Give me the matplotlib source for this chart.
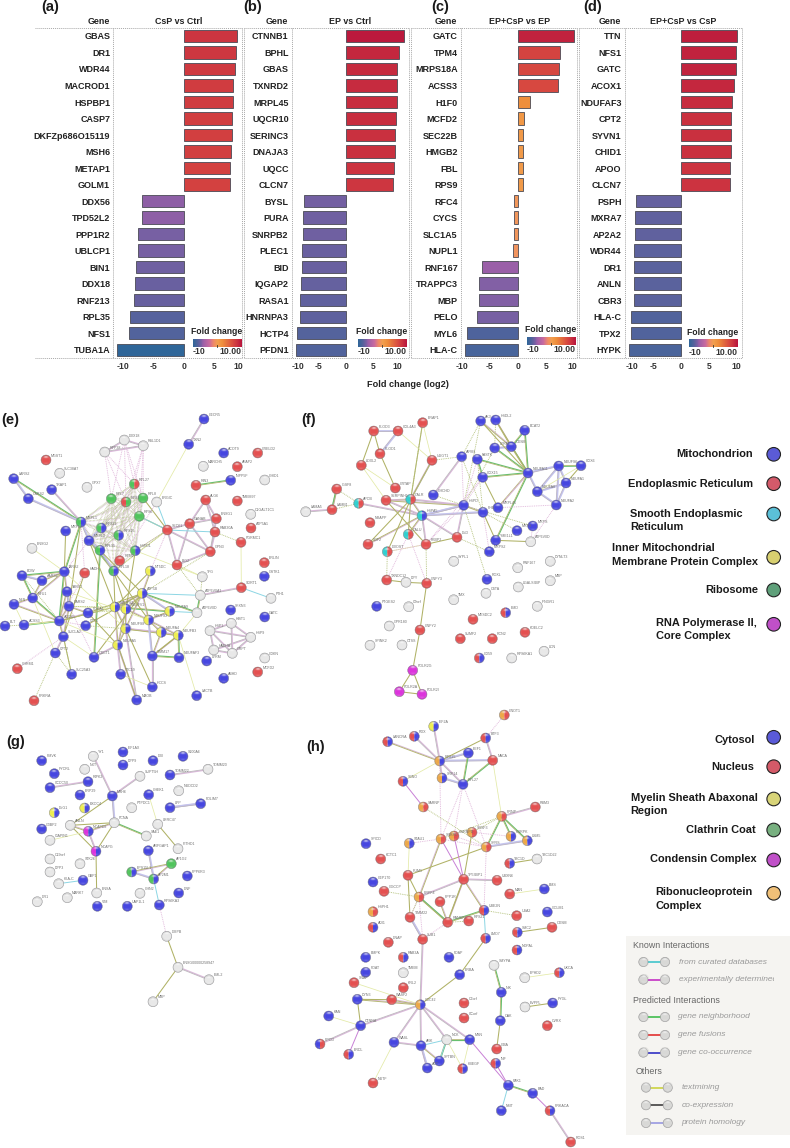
import itertools
import numpy as np
import matplotlib
matplotlib.use("Agg")
import matplotlib.pyplot as plt
from matplotlib.colors import LinearSegmentedColormap, Normalize
from matplotlib.patches import Wedge, Circle, Rectangle

plt.rcParams['font.family'] = ['Liberation Sans', 'DejaVu Sans']

W, H = 790, 1148

# === Bar panels ===
TITLES = ["CsP vs Ctrl", "EP vs Ctrl", "EP+CsP vs EP", "EP+CsP vs CsP"]
GENES_A = ["GBAS", "DR1", "WDR44", "MACROD1", "HSPBP1", "CASP7", "DKFZp686O15119", "MSH6", "METAP1", "GOLM1",
           "DDX56", "TPD52L2", "PPP1R2", "UBLCP1", "BIN1", "DDX18", "RNF213", "RPL35", "NFS1", "TUBA1A"]
VALS_A = [8.75, 8.55, 8.4, 8.1, 8.1, 8.0, 7.9, 7.85, 7.65, 7.65,
          -6.8, -6.8, -7.45, -7.45, -7.8, -8.05, -8.15, -8.8, -9.0, -11.0]
GENES_B = ["CTNNB1", "BPHL", "GBAS", "TXNRD2", "MRPL45", "UQCR10", "SERINC3", "DNAJA3", "UQCC", "CLCN7",
           "BYSL", "PURA", "SNRPB2", "PLEC1", "BID", "IQGAP2", "RASA1", "HNRNPA3", "HCTP4", "PFDN1"]
VALS_B = [10.65, 9.63, 9.4, 9.4, 9.27, 9.2, 9.03, 9.03, 8.85, 8.65,
          -7.6, -7.8, -7.8, -8.05, -8.05, -8.17, -8.35, -8.5, -8.9, -9.1]
GENES_C = ["GATC", "TPM4", "MRPS18A", "ACSS3", "H1F0", "MCFD2", "SEC22B", "HMGB2", "FBL", "RPS9",
           "RFC4", "CYCS", "SLC1A5", "NUPL1", "RNF167", "TRAPPC3", "MBP", "PELO", "MYL6", "HLA-C"]
VALS_C = [10.0, 7.6, 7.3, 7.2, 2.2, 1.1, 0.9, 0.8, 0.8, 0.8,
          -0.7, -0.85, -0.85, -1.0, -6.6, -7.05, -7.1, -7.4, -9.2, -9.6]
GENES_D = ["TTN", "NFS1", "GATC", "ACOX1", "NDUFAF3", "CPT2", "SYVN1", "CHID1", "APOO", "CLCN7",
           "PSPH", "MXRA7", "AP2A2", "WDR44", "DR1", "ANLN", "CBR3", "HLA-C", "TPX2", "HYPK"]
VALS_D = [10.25, 10.05, 9.95, 9.65, 9.3, 9.1, 9.05, 9.05, 8.85, 8.85,
          -8.2, -8.35, -8.35, -8.55, -8.6, -8.6, -8.6, -9.05, -9.05, -9.4]
GENES = [GENES_A, GENES_B, GENES_C, GENES_D]
VALS = [VALS_A, VALS_B, VALS_C, VALS_D]

# tick labels sit where the reference nudged them at the panel edges
TICK_LABELS = ["-10", "-5", "0", "5", "10"]
TICK_POS = [[-10.05, -5.0, 0, 4.95, 9.0], [-8.8, -5.0, 0, 5, 9.3], [-10.1, -5.2, 0, 5.1, 9.85], [-8.95, -5.0, 0, 5.1, 10.0]]

LEFT = [35, 244.3, 411, 579]
DIV = [113.3, 291.7, 460.7, 624.7]
RIGHT = [242.3, 409, 577, 742.3]
ZERO = [183.7, 346, 518.3, 681]
SCALE = [6.07, 5.47, 5.53, 5.5]
TOP, BOT = 27.7, 358

# === Network nodes, read in 3x crops: (name, x, y, compartments) ===
E_NODES = [("CECR5",612,57,"b"),("TXN2",566,133,"b"),("ACOT9",671,159,"b"),("CRELD2",773,159,"r"),("AFAP2",712,200,"r"),
 ("MARCH5",610,199,"w"),("RIN3",588,256,"r"),("INPP5F",692,241,"b"),("CHID1",794,240,"w"),("MGST1",138,180,"r"),
 ("SLC38A7",179,220,"w"),("LARS2",41,236,"b"),("TRAP1",155,269,"b"),("GPX7",261,262,"w"),("CARS2",85,296,"b"),
 ("DDX18",373,120,"w"),("RSL1D1",430,137,"w"),("RPP38",314,156,"w"),("RPL27",403,252,"gr"),("RPL7",334,296,"g"),
 ("RPS3",378,306,"rg"),("RPL8",429,294,"g"),("ERGIC",470,306,"w"),("RPS6",418,349,"g"),("ALG6",617,300,"r"),
 ("TMEM97",712,303,"r"),("ENSG1",649,356,"r"),("C1GALT1C1",752,343,"w"),("GANAB",569,371,"r"),("ATP5A1",753,384,"r"),
 ("RAB30A",645,396,"r"),("PGRMC1",723,427,"r"),("GPN3",631,455,"r"),("BIG2",531,495,"r"),("SEC61",502,390,"r"),
 ("MRPL1",243,366,"gb"),("MRPL2",197,393,"b"),("MRPL3",267,422,"b"),("RPS11",304,384,"gb"),("RPS15",356,406,"gb"),
 ("RPL35",300,451,"gb"),("HSPD1",406,452,"gb"),("RPN2",359,482,"r"),("RPL18",341,513,"gb"),("NT5DC",451,513,"yb"),
 ("ENSG2",96,445,"w"),("ERLIN",793,488,"r"),("GSTK1",793,529,"b"),("TFG",607,530,"w"),("ATP6V0A1",601,586,"w"),
 ("SORT1",724,563,"r"),("FTH1",813,595,"w"),("ATP6V0D",591,638,"w"),("ATP5B",427,580,"yb"),("BOW",66,527,"b"),
 ("IARS2",193,515,"b"),("HADH",254,519,"r"),("AARS2",126,542,"b"),("TARS2",201,575,"b"),("NFU1",98,594,"b"),
 ("NLN",42,613,"b"),("EARS2",207,619,"b"),("PDHA1",264,639,"b"),("NDUFS3",345,621,"yb"),("NDUFV1",378,627,"yb"),
 ("NDUFA9",509,634,"yb"),("SFXN3",692,630,"b"),("GATC",794,651,"b"),("ACOX1",178,663,"b"),("ACSS3",72,675,"b"),
 ("BLT",15,678,"b"),("CPT1",257,677,"b"),("NDUFS8",377,686,"yb"),("NDUFS2",446,660,"yb"),("NDUFA4",484,697,"yb"),
 ("NDUFB3",535,706,"yb"),("SUCLA2",190,710,"b"),("NDUFA5",353,735,"yb"),("CPT2",166,759,"b"),("OXCT1",282,772,"b"),
 ("TIMM17",457,768,"b"),("NDUFAF3",537,773,"b"),("LYRM",620,783,"b"),("CHRM1",52,806,"r"),("SLC25A3",215,823,"b"),
 ("TTC19",362,823,"b"),("HCCS",457,861,"b"),("MAOB",410,900,"b"),("LACTB",590,887,"b"),("ABHD",671,835,"b"),
 ("MCFD2",773,816,"r"),("CDKN",794,774,"w"),("PRKRA",102,902,"r"),("HSP1",630,692,"w"),("HIST1",694,670,"w"),
 ("HSP9",752,712,"w"),("GRPT",697,760,"w"),("HADHA",641,750,"w")]
E_EDGES = {
 "p": "DDX18:RSL1D1 DDX18:RPP38 RSL1D1:RPP38 CECR5:TXN2 SEC61:GANAB SEC61:BIG2 BIG2:GANAB GANAB:ALG6 ALG6:ENSG1 ALG6:RAB30A GANAB:ENSG1 GANAB:GPN3 ENSG1:GPN3 RAB30A:GPN3 SEC61:GPN3 BIG2:GPN3 ATP6V0A1:SORT1 HSP1:HIST1 HSP1:HSP9 HIST1:HSP9 HSP9:GRPT HSP9:HADHA HSP1:HADHA HSP1:GRPT GRPT:HADHA HIST1:GRPT TRAP1:MRPL1 CPT2:SUCLA2 OXCT1:NDUFA5 TTC19:NDUFA5 MAOB:NDUFS8 MAOB:NDUFA5 HCCS:TIMM17",
 "g": "RIN3:INPP5F LARS2:MRPL1 BOW:IARS2 BOW:NFU1 ACOX1:IARS2 ACOX1:ACSS3 NFU1:ACOX1 MRPL1:IARS2 TIMM17:NDUFAF3 NDUFB3:NDUFAF3 ATP6V0D:ATP6V0A1 NDUFA9:NDUFS3 ATP5B:ATP6V0D MRPL3:RPL18 RPL35:OXCT1",
 "k": "AARS2:IARS2 IARS2:NFU1 TARS2:ACOX1 NFU1:NLN NLN:ACOX1 EARS2:PDHA1 EARS2:ACOX1 ACOX1:SUCLA2 IARS2:TARS2 AARS2:NFU1 ACOX1:PDHA1 TARS2:EARS2 SUCLA2:EARS2 NDUFS8:NDUFA4 NDUFA4:NDUFB3 NDUFS2:NDUFA4 NDUFV1:NDUFS2 NDUFS3:NDUFV1 NDUFS3:NDUFS8 NDUFV1:NDUFS8 NDUFS8:NDUFB3 NDUFS2:NDUFB3 NDUFS3:ATP5B NDUFV1:ATP5B NDUFS2:ATP5B NDUFA5:NDUFS8 NDUFA5:NDUFS3 NDUFA5:NDUFV1 NDUFA9:NDUFS2 ATP5B:NT5DC NDUFA4:TIMM17 NDUFB3:TIMM17 ATP5B:NDUFS8",
 "l": "CARS2:MRPL1 LARS2:CARS2 TARS2:EARS2 BOW:AARS2 MRPL1:MRPL3 MRPL3:RPS11 RPL35:RPL18 MRPL3:RPL35 TIMM17:NDUFS2 ATP5B:NDUFA9",
 "o": "ATP5B:RPL35 ATP5B:CPT1 ATP5B:OXCT1 ATP5B:PDHA1 NDUFA5:PDHA1 NDUFS3:RPL18 NDUFV1:RPL18 NDUFS3:MRPL3 NDUFS2:RPL18 MRPL1:EARS2 HADH:SUCLA2 MRPL2:IARS2 SUCLA2:SLC25A3 HSPD1:NDUFV1 NT5DC:NDUFS3 NDUFA5:MAOB RPS6:SEC61 RPL8:SEC61 NDUFS3:ACOX1 NDUFS8:HCCS NDUFB3:TIMM17",
 "t": "TXN2:ERGIC SORT1:PGRMC1 ENSG2:IARS2 NDUFB3:LACTB TTC19:HCCS ACOX1:ACSS3 SUCLA2:OXCT1 NFU1:CPT2 IARS2:NDUFS8 TFG:BIG2 NDUFB3:ATP6V0D NLN:ACSS3 HSPD1:TFG TARS2:NDUFS2 RPL18:SEC61 EARS2:NDUFV1 ACOX1:NDUFA5",
 "c": "SORT1:FTH1 SEC61:RAB30A ATP5B:ATP6V0A1 NDUFA9:ATP6V0D ERGIC:SEC61 RPS6:SEC61",
 "x": "DDX18:RPL27 DDX18:RPL7 DDX18:RPL8 RSL1D1:RPL27 RSL1D1:RPL8 RSL1D1:RPS6 RPP38:RPL7 RPP38:RPL27 RPP38:RPS3 DDX18:RPS3 RSL1D1:RPS3 CHRM1:SUCLA2 MRPL1:HADH IARS2:MRPL3 ERGIC:RPL18 HADH:ACOX1 SEC61:NT5DC ACOX1:CPT1 EARS2:OXCT1 SEC61:HSPD1",
 "d": "PGRMC1:RAB30A TFG:ATP6V0A1 SEC61:RPL18 PRKRA:CPT2 ATP6V0A1:BIG2 ACOX1:NDUFS3 CPT1:NDUFS8 EARS2:NDUFS3 BOW:ACOX1 ACSS3:BLT SLC25A3:CPT2 HSPD1:SEC61 ATP5B:GPN3 SLC25A3:SUCLA2 PDHA1:NDUFV1",
}
E_MESH = ["RPL27", "RPL7", "RPS3", "RPL8", "RPS6", "MRPL1", "MRPL3", "RPS11", "RPS15", "RPL35", "HSPD1", "RPL18"]

F_NODES = [("ERAP1",398,68,"r"),("COL4A3",324,93,"r"),("PLOD3",251,93,"r"),("PLOD1",270,161,"r"),("UGGT1",426,181,"r"),
 ("LOXL2",214,196,"r"),("CRTAP",316,264,"r"),("IGSF8",140,267,"r"),("LAMB1",126,329,"r"),("LAMA5",47,335,"w"),
 ("APOB",206,310,"cr"),("SERPINH1",288,301,"r"),("CALR",362,298,"cr"),("CHCHD",430,285,"b"),("HSPA5",396,347,"cb"),
 ("NRAPP",240,368,"r"),("SDF2",234,433,"r"),("CALU",355,403,"cr"),("DDOST",292,455,"cr"),("FKBP2",408,433,"r"),
 ("DLD",501,412,"r"),("TXNDC12",290,540,"r"),("DPY",348,547,"w"),("CNPY3",410,550,"r"),("CNPY2",390,690,"r"),
 ("PTGES2",260,619,"b"),("C9orf",356,620,"w"),("GPR180",298,678,"w"),("CTSS",336,735,"w"),("SPINK2",240,736,"w"),
 ("POLR2G",368,811,"m"),("POLR2A",328,875,"m"),("POLR2I",396,883,"m"),("SYPL1",491,484,"w"),("HSPD",521,316,"b"),
 ("AK3",572,63,"b"),("HSDL2",617,60,"b"),("BCAT2",704,91,"b"),("OXSM",664,140,"b"),("LYRM",614,144,"b"),
 ("AIFM1",515,170,"b"),("FASTK",562,178,"b"),("COX15",578,232,"b"),("NDUFA11",714,219,"b"),("NDUFS6",806,198,"b"),
 ("COX6",873,197,"b"),("NDUFA1",828,249,"b"),("NDUFA8",742,275,"b"),("NDUFA2",799,315,"b"),("MRPL45",624,323,"b"),
 ("PHB",579,337,"b"),("MRPS",728,378,"b"),("MRP9",681,392,"b"),("YME1L1",617,421,"b"),("ATP6V0D",722,425,"w"),
 ("MRPS2",598,455,"b"),("ROXL",591,538,"b"),("RNF167",683,503,"w"),("DYNLT3",781,484,"w"),("MBP",781,542,"w"),
 ("CSTA",588,580,"w"),("LGALS3BP",685,561,"w"),("IFNGR1",742,619,"w"),("TMX",491,599,"w"),("EMD",647,638,"rb"),
 ("MESDC2",549,658,"r"),("SUMF2",511,716,"r"),("RCN2",607,716,"r"),("KDELC2",705,697,"r"),("CD59",568,774,"rb"),
 ("RPS6KA1",665,774,"w"),("LCN",762,754,"w")]
F_EDGES = {
 "p": "AIFM1:CHCHD HSPA5:FKBP2 CALR:UGGT1 SERPINH1:HSPA5 HSPA5:HSPD CALR:HSPD APOB:HSPA5 IGSF8:LAMB1 LAMA5:LAMB1 DLD:HSPD HSPA5:DLD",
 "k": "SERPINH1:CALR SERPINH1:HSPD CALR:HSPA5 HSPA5:CALU HSPA5:SDF2 NDUFA11:MRPL45 AK3:OXSM HSDL2:OXSM HSPD:PHB",
 "l": "COL4A3:PLOD1 PLOD3:COL4A3 HSPA5:HSPD HSPA5:PHB NDUFA11:NDUFA8 NDUFA8:NDUFA2 NDUFS6:NDUFA1 NDUFA1:NDUFA2 NDUFA11:NDUFS6 NDUFS6:NDUFA8 NDUFA1:NDUFA8 NDUFS6:NDUFA2 OXSM:LYRM",
 "g": "BCAT2:NDUFA11 LYRM:NDUFA11 OXSM:NDUFA11 COX15:NDUFA11 FASTK:NDUFA11 NDUFA11:YME1L1 FASTK:COX15 BCAT2:OXSM LAMB1:IGSF8 COX6:NDUFS6",
 "o": "PLOD3:LOXL2 PLOD1:CRTAP PLOD3:PLOD1 CALR:CALU DDOST:CALR SDF2:CALR SERPINH1:FKBP2 FKBP2:DLD COX15:MRPL45 AK3:NDUFA11 HSDL2:NDUFA11 PHB:YME1L1 YME1L1:ATP6V0D CNPY2:POLR2G POLR2G:POLR2A POLR2G:POLR2I POLR2A:POLR2I TXNDC12:DPY DPY:CNPY3 CNPY3:CNPY2 COX6:NDUFA1 CALR:ERAP1 CALR:UGGT1",
 "t": "ERAP1:UGGT1 COL4A3:UGGT1 LOXL2:CRTAP SERPINH1:LOXL2 DDOST:FKBP2 COX6:NDUFA8",
 "d": "UGGT1:AIFM1 UGGT1:CALR ERAP1:CALR AK3:HSPD AK3:AIFM1 LYRM:HSPD PHB:MRP9 HSPD:MRPS AIFM1:PHB FASTK:PHB HSDL2:LYRM HSPD:ROXL DLD:MRPS2 TXNDC12:DDOST CNPY3:FKBP2 LAMB1:APOB IGSF8:APOB CHCHD:HSPD",
 "x": "AIFM1:HSPD FASTK:HSPD COX15:HSPD MRPL45:NDUFA2 ATP6V0D:NDUFA2 MRPL45:NDUFA11 PHB:MRPS2 TXNDC12:CALU DDOST:FKBP2 CNPY3:CALU HSPD:FKBP2 COX15:FKBP2 ATP6V0D:MRPS",
}
F_MESH = []

G_NODES = [("PMVK",125,182,"b"),("YY1",280,169,"w"),("EIF1AX",369,156,"b"),("DPP9",369,195,"b"),("DBI",459,182,"b"),
 ("S100A6",549,169,"b"),("TOMM20",624,208,"w"),("TOMM22",510,225,"b"),("SUPT5H",420,229,"w"),("PYCRL",163,221,"b"),
 ("NXT",254,208,"w"),("RIPK2",264,245,"b"),("CCDC50",150,263,"b"),("ERP29",240,285,"b"),("NUDCD2",536,272,"w"),
 ("LPP",510,323,"b"),("PDLIM7",602,311,"b"),("CHEK1",446,284,"b"),("MSH6",337,288,"b"),("PTPDC1",395,323,"w"),
 ("DLG1",163,338,"yb"),("EXOC4",254,324,"yb"),("ANLN",211,376,"w"),("NCAPD2",265,394,"mb"),("PCNA",343,368,"w"),
 ("LRRC47",473,373,"w"),("SAE1",439,408,"w"),("G3BP2",125,387,"b"),("CIAPIN1",150,421,"w"),("ARFGAP1",445,452,"b"),
 ("NCAPG",288,454,"mb"),("PITHD1",534,446,"w"),("C19orf",150,477,"w"),("STK26",240,491,"w"),("DPP3",150,516,"w"),
 ("AP1G2",514,491,"g"),("EPS15L1",395,516,"gb"),("AP2M1",461,537,"gb"),("PPP6R3",562,528,"b"),("GBP1",249,541,"b"),
 ("HLA-C",176,551,"w"),("ENSA",290,579,"w"),("CHN2",420,580,"w"),("DNF",536,579,"b"),("MARK7",202,593,"w"),
 ("DR1",112,605,"w"),("VIM",292,619,"b"),("UAP1L1",382,619,"b"),("RPS6KA3",478,615,"b"),("DMPB",500,709,"w"),
 ("ENSG00000258947",534,802,"w"),("EML2",627,839,"w"),("MBP",459,905,"w")]
G_EDGES = {
 "p": "YY1:MSH6 MSH6:SUPT5H LPP:PDLIM7 TOMM20:TOMM22 CCDC50:RIPK2 ENSG00000258947:EML2 NCAPD2:NCAPG",
 "l": "MSH6:PCNA ARFGAP1:AP2M1 EPS15L1:AP2M1 LPP:PDLIM7",
 "o": "MSH6:ANLN PCNA:NCAPG PCNA:ANLN ANLN:NCAPG LRRC47:PITHD1 NCAPG:ENSA DMPB:ENSG00000258947 ENSG00000258947:MBP",
 "k": "ANLN:NCAPD2 PCNA:NCAPD2 AP1G2:EPS15L1 AP1G2:AP2M1",
 "g": "PCNA:SAE1",
 "t": "CHEK1:LRRC47 CIAPIN1:NCAPD2",
 "c": "GBP1:HLA-C AP2M1:RPS6KA3",
 "x": "RPS6KA3:DMPB",
}
G_MESH = []

H_NODES = [("CNOT1",643,45,"or"),("EIF2A",431,79,"yb"),("RDX",373,109,"rb"),("LANCRA",293,125,"rb"),("BTF3",587,114,"rb"),
 ("RPS15",449,183,"ob"),("EEF1",535,159,"b"),("NACA",608,181,"r"),("SRP14",456,234,"ob"),("RPL27",519,253,"b"),
 ("SBNO",339,244,"rb"),("SARNP",400,321,"or"),("RBM3",736,321,"r"),("PRNP",635,349,"or"),("SRSF3",546,397,"or"),
 ("SNRPD",453,417,"or"),("HNRNPD",492,408,"or"),("SFRS",589,441,"or"),("HNRPK",663,409,"ob"),("LSM5",712,422,"ob"),
 ("STAU1",358,430,"ob"),("SPICD",228,431,"b"),("KCTC1",272,477,"r"),("TBC1D",659,490,"rb"),("TBC1D22",741,477,"w"),
 ("PUM1",354,526,"r"),("TP53BP1",521,538,"r"),("UBXN6",621,541,"r"),("CEP170",249,546,"b"),("GGCCP",282,574,"r"),
 ("MAN",659,582,"r"),("BMS",763,567,"b"),("PRPF4",387,591,"or"),("PPP1R",450,605,"r"),("HSPH1",249,635,"or"),
 ("TIMM22",360,652,"r"),("RANBP3",473,667,"r"),("RPS21",536,663,"r"),("UBE2N",582,631,"rb"),("USA2",680,647,"r"),
 ("GOLM1",772,636,"b"),("SMC2",682,697,"rb"),("OXSM",786,682,"r"),("ADI1",249,682,"rb"),("DNAP",295,727,"r"),
 ("SUB1",398,718,"r"),("LMO7",587,715,"rb"),("NOPAL",681,750,"rb"),("BMPK",227,772,"b"),("RAB3A",340,772,"rb"),
 ("FDAP",477,772,"b"),("SMYPA",612,796,"w"),("EPHD2",704,833,"w"),("UKCA",808,818,"rb"),("ERBA",509,824,"b"),
 ("TMEM",340,818,"w"),("PDAT",227,817,"b"),("SNAP",192,848,"r"),("KRL2",340,863,"r"),("NIK",634,877,"b"),
 ("CDC42",391,914,"ob"),("WASF2",305,899,"r"),("DYN3",202,898,"b"),("C2orf",522,909,"r"),("EVPPL",705,921,"w"),
 ("PYGL",788,909,"b"),("CCorf",522,954,"r"),("KAN",116,948,"b"),("CTNNA",212,977,"b"),("OAK",631,962,"b"),
 ("CVRX",772,977,"r"),("NCK",470,1019,"w"),("MSN",539,1019,"b"),("WASL",312,1027,"b"),("PPOD",90,1032,"br"),
 ("ARK",393,1037,"b"),("ERDL",176,1063,"rb"),("CMA",620,1047,"r"),("INF",617,1090,"rb"),("SPTBN",448,1083,"b"),
 ("ACT",412,1104,"b"),("HBEGF",518,1106,"rb"),("NUTF",249,1149,"r"),("PAK1",655,1156,"b"),("BAD",728,1180,"b"),
 ("PRKACA",780,1232,"rb"),("NMT",634,1232,"b"),("ROS1",842,1326,"r")]
H_EDGES = {
 "p": "RDX:RPS15 EIF2A:RPS15 RPS15:RPL27 RPS15:SRP14 BTF3:NACA TP53BP1:UBXN6 PRPF4:TP53BP1 SUB1:CDC42 CDC42:WASL CDC42:ARK CDC42:NCK CDC42:MSN CDC42:CTNNA CTNNA:PPOD PRKACA:ROS1 WASL:ARK RBM3:PRNP TIMM22:SUB1 ACT:ARK",
 "k": "LANCRA:RPS15 PRPF4:SNRPD PRPF4:RANBP3 PPP1R:RANBP3 TP53BP1:UBE2N TP53BP1:RANBP3 DYN3:CDC42 WASF2:CDC42 ARK:SPTBN",
 "l": "RPS15:EEF1 RPS15:NACA SRP14:RPL27 SFRS:LSM5 TIMM22:SUB1 ARK:ACT",
 "g": "PRNP:HNRPK PRNP:LSM5 PRNP:SFRS EEF1:RPL27 NACA:RPL27 PRPF4:RANBP3 RANBP3:UBE2N SMYPA:NIK NIK:OAK NCK:SPTBN MSN:NCK PAK1:BAD",
 "o": "PUM1:SFRS PUM1:PRPF4 TP53BP1:RANBP3 TP53BP1:SRSF3 CTNNA:DYN3 ERBA:CDC42 LMO7:ERBA TBC1D:TBC1D22 SMC2:OXSM EVPPL:PYGL OAK:CMA RPS15:BTF3 PUM1:TIMM22 WASF2:DYN3",
 "t": "SBNO:RPS15 STAU1:PUM1 MAN:BMS EPHD2:UKCA SNAP:CDC42 KAN:CTNNA WASL:NUTF NCK:HBEGF MSN:HBEGF NACA:PRNP",
 "c": "UBE2N:LMO7 NCK:ARK PAK1:NMT SPTBN:NCK",
 "m": "TP53BP1:SNRPD TP53BP1:HNRNPD SBNO:SARNP CTNNA:ERDL MSN:PAK1 INF:PAK1 BAD:PRKACA",
 "x": "STAU1:SNRPD SNRPD:SFRS HNRNPD:SFRS RPL27:SNRPD RPL27:SFRS RPL27:HNRNPD SFRS:UBE2N SRSF3:HNRPK CNOT1:BTF3 SUB1:PRPF4 SUB1:RANBP3 RPS15:SNRPD TIMM22:PRPF4",
 "d": "SARNP:SFRS GGCCP:PRPF4 UBE2N:USA2 SRSF3:PRNP SNRPD:PRNP RANBP3:RPS21 PRPF4:TIMM22 UBE2N:RANBP3",
}
H_MESH = []

NET_ORIGIN = {"e": (0, 400), "f": (290, 400), "g": (0, 700), "h": (290, 700)}
NETS = [("e", E_NODES, E_EDGES, E_MESH), ("f", F_NODES, F_EDGES, F_MESH),
        ("g", G_NODES, G_EDGES, G_MESH), ("h", H_NODES, H_EDGES, H_MESH)]

NODE_COL = {"b": "#4646e0", "r": "#e45050", "g": "#50c45c", "y": "#eeee50", "c": "#30d0d0",
            "m": "#dc34dc", "o": "#eda848", "w": "#e8e8e8"}
DOT = (0, (1, 1))
EDGE_STYLE = {
    "k": [("#d6b6d6", 0.7, "-"), ("#b3b56e", 0.65, "-")],
    "p": [("#dab8da", 0.9, "-"), ("#bdb8bd", 0.6, "-")],
    "o": [("#b0b266", 0.75, "-")],
    "g": [("#68c070", 0.85, "-"), ("#b3b56e", 0.55, "-")],
    "l": [("#c4c4ee", 1.3, "-"), ("#bdb6c4", 0.6, "-")],
    "t": [("#e3eaa6", 0.55, "-")],
    "c": [("#8cd6e4", 0.7, "-")],
    "m": [("#c880d6", 0.7, "-")],
    "x": [("#e0b6da", 0.65, DOT)],
    "d": [("#b4c27c", 0.65, DOT)],
    "z": [("#dcc0dc", 0.5, DOT), ("#b6c88c", 0.5, DOT)],
}

# === Legends ===
LEG_COL_1 = ["#5b5bd6", "#d45a6a", "#5bc0d8", "#d8d070", "#5fa07a", "#c050c8"]
LEG_Y_1 = [454.3, 483.7, 514, 557.3, 590, 624.3]
LEG_COL_2 = ["#5a5ad8", "#d45a68", "#d8d478", "#78b080", "#c050c8", "#f0c078"]
LEG_Y_2 = [737.3, 766.7, 799, 830, 860, 893.3]
LEG_TEXT = [("Mitochondrion", 752.7, 454.3, "right"), ("Endoplasmic Reticulum", 752.7, 483.7, "right"),
            ("Smooth Endoplasmic", 630.3, 513.7, "left"), ("Reticulum", 630.3, 526.7, "left"),
            ("Inner Mitochondrial", 611.7, 548.3, "left"), ("Membrane Protein Complex", 611.7, 561.7, "left"),
            ("Ribosome", 758.7, 589.7, "right"), ("RNA Polymerase II,", 655.7, 623, "left"), ("Core Complex", 655.7, 636.3, "left"),
            ("Cytosol", 754.7, 740, "right"), ("Nucleus", 754.3, 767, "right"),
            ("Myelin Sheath Abaxonal", 630.7, 797.7, "left"), ("Region", 630.7, 810.7, "left"),
            ("Clathrin Coat", 756, 830, "right"), ("Condensin Complex", 756.3, 859, "right"),
            ("Ribonucleoprotein", 655.3, 892.3, "left"), ("Complex", 655.3, 905.7, "left")]
KEY_HEAD = [("Known Interactions", 632.7, 945.3), ("Predicted Interactions", 632.7, 1000.7), ("Others", 635.3, 1071)]
KEY_ITEMS = [("from curated databases", 962, "#30c0c8", 643.3, 665, 678.7),
             ("experimentally determined", 979.7, "#c020c0", 643.3, 665, 678.7),
             ("gene neighborhood", 1017, "#30b840", 643.3, 665, 678),
             ("gene fusions", 1035, "#e02020", 643.3, 665, 678),
             ("gene co-occurrence", 1052.7, "#2020c0", 643.3, 665, 678),
             ("textmining", 1087.7, "#c8d030", 646, 667.7, 681.3),
             ("co-expression", 1105.3, "#303030", 646, 667.7, 681.3),
             ("protein homology", 1123, "#9090e0", 646, 667.7, 681.3)]

cmap = LinearSegmentedColormap.from_list("fc", [(0.0, "#2f6699"), (0.09, "#52639c"), (0.136, "#6a60a0"), (0.17, "#7c60a4"),
                                               (0.2, "#9a5fa8"), (0.33, "#c86aa0"), (0.42, "#f08a68"), (0.5, "#f2a050"),
                                               (0.6, "#ef8f3c"), (0.82, "#d84a40"), (0.9, "#cc3440"), (1.0, "#b8143c")])
norm = Normalize(-11, 11)


def px_axes(fig, x0, y0, x1, y1):
    return fig.add_axes([x0 / W, 1 - y1 / H, (x1 - x0) / W, (y1 - y0) / H])


# glossy shading that goes over the flat node colours
yy, xx = np.mgrid[-1:1:40j, -1:1:40j]
rr = np.hypot(xx, yy)
SPRITE = np.zeros((40, 40, 4))
gloss = np.exp(-((xx / 0.5) ** 2 + ((yy + 0.66) / 0.22) ** 2)) * 0.8
SPRITE[..., :3] = 1.0
SPRITE[..., 3] = np.clip(gloss + np.exp(-((xx / 0.65) ** 2 + ((yy - 0.78) / 0.25) ** 2)) * 0.22, 0, 1)
edge = np.clip((rr - 0.72) / 0.28, 0, 1) * 0.25
SPRITE[..., :3] = SPRITE[..., :3] * (1 - edge[..., None] * 2.5).clip(0, 1)
SPRITE[..., 3] = np.maximum(SPRITE[..., 3], edge)
SPRITE[rr > 1, 3] = 0


def draw_node(ax, x, y, cols, r=5.0):
    n = len(cols)
    for i, c in enumerate(cols):
        ax.add_patch(Wedge((x, y), r, 90 + i * 360 / n, 90 + (i + 1) * 360 / n, fc=NODE_COL[c], lw=0, zorder=5))
    ax.add_patch(Circle((x, y), r, fc="none", ec="#88888c", lw=0.3, zorder=6))
    ax.imshow(SPRITE, extent=(x - r, x + r, y + r, y - r), aspect="auto", zorder=7, interpolation="bilinear")


def draw_edge(ax, p, q, style):
    spec = EDGE_STYLE[style]
    d = np.array(q) - np.array(p)
    n = np.array([-d[1], d[0]]) / (np.hypot(*d) + 1e-6)
    for i, (c, lw, ls) in enumerate(spec):
        off = (i - (len(spec) - 1) / 2) * 0.8 * n
        ax.plot([p[0] + off[0], q[0] + off[0]], [p[1] + off[1], q[1] + off[1]], color=c, lw=lw, ls=ls, zorder=3)


fig = plt.figure(figsize=(W / 100, H / 100), dpi=100, facecolor="white")

# === Panels (a)-(d) ===
for i in range(4):
    ax = px_axes(fig, DIV[i], TOP, RIGHT[i], BOT)
    ax.set_xlim((DIV[i] - ZERO[i]) / SCALE[i], (RIGHT[i] - ZERO[i]) / SCALE[i])
    y = np.arange(20)
    ax.barh(y, VALS[i], height=0.75, color=cmap(norm(VALS[i])), edgecolor="#4a4a55", lw=0.6)
    ax.set_ylim(19.5, -0.5)
    ax.set_yticks(y, GENES[i], fontsize=6.5, fontweight="bold", color="#222222")
    ax.set_xticks(TICK_POS[i], TICK_LABELS, fontsize=6.2, fontweight="bold", color="#333333")
    ax.tick_params(axis="y", length=0, pad=2.2)
    ax.tick_params(axis="x", length=0, pad=2.8)
    for s in ax.spines.values():
        s.set_visible(False)

# overlay in picture pixels for everything else
ov = px_axes(fig, 0, 0, W, H)
ov.set_xlim(0, W)
ov.set_ylim(H, 0)
ov.axis("off")
ov.patch.set_alpha(0)

frame = dict(color="#a8a8a8", lw=0.7, ls=DOT, zorder=2)
for i in range(4):
    ov.plot([LEFT[i], RIGHT[i]], [TOP, TOP], **frame)
    ov.plot([LEFT[i], RIGHT[i]], [BOT, BOT], **frame)
    ov.plot([DIV[i], DIV[i]], [TOP, BOT], **frame)
    ov.plot([RIGHT[i], RIGHT[i]], [TOP, BOT], **frame)
    if i > 0:
        ov.plot([LEFT[i], LEFT[i]], [TOP, BOT], **frame)

head = dict(fontsize=6.4, fontweight="bold", color="#222222", va="center")
GENE_RIGHT = [110.3, 288, 457.3, 621.3]
TITLE_X = [179, 350, 519.7, 683.3]
for i in range(4):
    ov.text(GENE_RIGHT[i], 22, "Gene", ha="right", **head)
    ov.text(TITLE_X[i], 22, TITLES[i], ha="center", **head)
ov.text(408, 384.5, "Fold change (log2)", ha="center", fontsize=6.6, fontweight="bold", color="#222222", va="center")

# colour legends inside the panels
CB_X = [193.3, 358, 527, 689]
CB_Y = [339, 339, 337, 339.7]
grad = np.linspace(0, 1, 128)[None, :]
for x0, y0 in zip(CB_X, CB_Y):
    ov.imshow(grad, cmap=cmap, extent=(x0, x0 + 48.7, y0 + 7.7, y0), aspect="auto", zorder=4)
    ov.plot([x0 + 24, x0 + 24], [y0 + 5.5, y0 + 7.7], color="#333333", lw=0.6, zorder=5)
    ov.text(x0 + 23.7, y0 - 7, "Fold change", ha="center", va="center", fontsize=6.2, fontweight="bold", color="#222222")
    ov.text(x0 + 6, y0 + 13, "-10", ha="center", va="center", fontsize=6.2, fontweight="bold", color="#333333")
    ov.text(x0 + 37.4, y0 + 13, "10.00", ha="center", va="center", fontsize=6.2, fontweight="bold", color="#333333")

LETTERS = [("(a)", 41.7, 7.5), ("(b)", 243.3, 7.5), ("(c)", 431, 7), ("(d)", 583.3, 7),
           ("(e)", 1.5, 420), ("(f)", 301.5, 420), ("(g)", 6, 742), ("(h)", 306.5, 746.7)]
for s, x, y in LETTERS:
    ov.text(x, y, s, fontsize=10.5, fontweight="bold", color="#1a1a1a", ha="left", va="center")

# === Networks (e)-(h) ===
for name, nodes, edges, mesh in NETS:
    ox, oy = NET_ORIGIN[name]
    pos = {k: (ox + zx / 3, oy + zy / 3) for k, zx, zy, _ in nodes}
    for a, b in itertools.combinations(mesh, 2):
        draw_edge(ov, pos[a], pos[b], "z")
    for style, pairs in edges.items():
        for pair in pairs.split():
            a, b = pair.split(":")
            draw_edge(ov, pos[a], pos[b], style)
    for k, zx, zy, cols in nodes:
        draw_node(ov, pos[k][0], pos[k][1], cols)
        ov.text(pos[k][0] + 4.6, pos[k][1] - 4.4, k, fontsize=2.6, color="#707070", va="center", ha="left", zorder=8)

# === Compartment legends ===
for ys, cols in ((LEG_Y_1, LEG_COL_1), (LEG_Y_2, LEG_COL_2)):
    for y, c in zip(ys, cols):
        ov.add_patch(Circle((773.7, y), 6.8, fc=c, ec="#222222", lw=0.8, zorder=5))
for s, x, y, ha in LEG_TEXT:
    ov.text(x, y, s, ha=ha, va="center", fontsize=7.9, fontweight="bold", color="#1a1a1a")

# === Interaction key ===
ov.add_patch(Rectangle((625.7, 936), 164.3, 199, fc="#f5f4f1", ec="none", zorder=1))
for s, x, y in KEY_HEAD:
    ov.text(x, y, s, fontsize=6.4, color="#666666", va="center", ha="left", zorder=8)
clip = Rectangle((625.7, 936), 148.3, 199, transform=ov.transData)
for s, y, c, x0, x1, xt in KEY_ITEMS:
    ov.plot([x0, x1], [y, y], color=c, lw=1.1, zorder=3)
    for xn in (x0, x1):
        ov.add_patch(Circle((xn, y), 4.6, fc="#d8d8d6", ec="#a0a0a0", lw=0.4, zorder=5))
        ov.imshow(SPRITE, extent=(xn - 4.6, xn + 4.6, y + 4.6, y - 4.6), aspect="auto", zorder=7, interpolation="bilinear")
    t = ov.text(xt, y, s, fontsize=6.0, style="italic", color="#9a9a9a", va="center", ha="left", zorder=8)
    t.set_clip_path(clip)
    t.set_clip_on(True)

ov.set_xlim(0, W)
ov.set_ylim(H, 0)
fig.savefig("out.png", dpi=100)
